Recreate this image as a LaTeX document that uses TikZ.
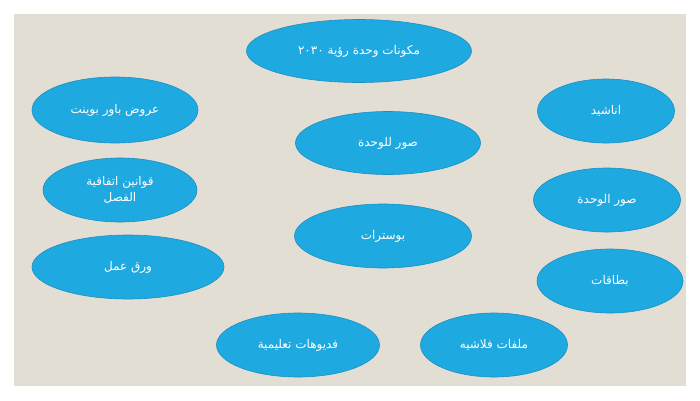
\documentclass[tikz,border=0pt]{standalone}
\usepackage{fontspec}
\newfontfamily\arabicfont[Script=Arabic]{DejaVu Sans}
\TeXXeTstate=1
\usetikzlibrary{shapes.geometric,positioning}
\definecolor{bgcol}{HTML}{E3DED4}
\definecolor{blobfill}{HTML}{1FA9E1}
\definecolor{blobdraw}{HTML}{1B8FC2}
\tikzset
{
    item/.style = {ellipse, draw=blobdraw, fill=blobfill, line width=0.6pt, text=white, align=center, inner sep=0pt, font=\arabicfont\fontsize{12}{16}\selectfont},
}
\newcommand{\artext}[1]{\beginR #1\endR}

\begin{document}
\begin{tikzpicture}[x=1pt,y=-1pt]
	\path[use as bounding box] (0,0) rectangle (700,400);
	\fill[bgcol] (14,14) rectangle (686,386);

	\node (p0) [item, minimum width=225pt, minimum height=63pt] at (359,51) {\artext{مكونات وحدة رؤية \beginL٢٠٣٠\endL}};
	\node (p1) [item, minimum width=166pt, minimum height=66pt] at (115,110) {\artext{عروض باور بوينت}};
	\node (p2) [item, minimum width=185pt, minimum height=63pt] at (388,143) {\artext{صور للوحدة}};
	\node (p3) [item, minimum width=137pt, minimum height=64pt] at (606,111) {\artext{اناشيد}};
	\node (p4) [item, minimum width=154pt, minimum height=64pt] at (120,190) {\artext{قوانين اتفاقية}\\\artext{الفصل}};
	\node (p5) [item, minimum width=147pt, minimum height=64pt] at (607,200) {\artext{صور الوحدة}};
	\node (p6) [item, minimum width=177pt, minimum height=64pt] at (383,236) {\artext{بوسترات}};
	\node (p7) [item, minimum width=192pt, minimum height=64pt] at (128,267) {\artext{ورق عمل}};
	\node (p8) [item, minimum width=146pt, minimum height=64pt] at (610,281) {\artext{بطاقات}};
	\node (p9) [item, minimum width=163pt, minimum height=64pt] at (298,345) {\artext{فديوهات تعليمية}};
	\node (p10) [item, minimum width=147pt, minimum height=64pt] at (494,345) {\artext{ملفات فلاشيه}};

\end{tikzpicture}
\end{document}
